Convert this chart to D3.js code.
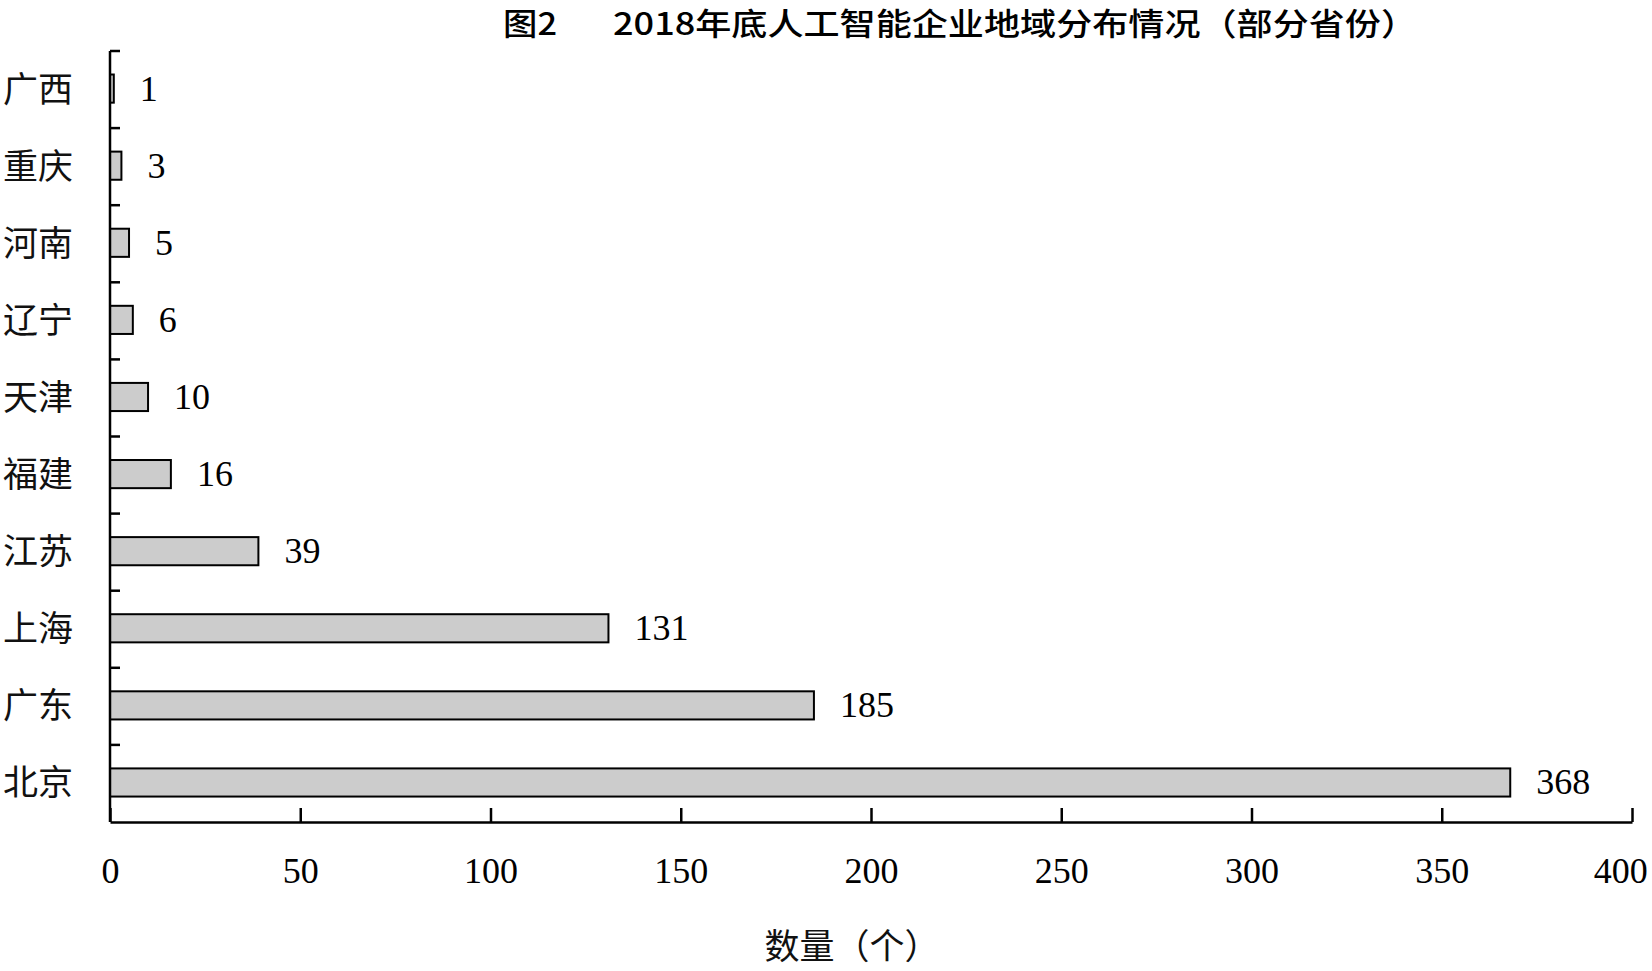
<!DOCTYPE html>
<html><head><meta charset="utf-8">
<script src="https://cdn.jsdelivr.net/npm/d3@7"></script>
<style>html,body{margin:0;padding:0;background:#fff;}</style>
</head><body>
<svg id="c" width="1652" height="971"></svg>
<script>
const categories = ["广西","重庆","河南","辽宁","天津","福建","江苏","上海","广东","北京"];
const values = [1,3,5,6,10,16,39,131,185,368];
const xTicks = [0,50,100,150,200,250,300,350,400];
const titlePrefix = "图2";
const titleText = "2018年底人工智能企业地域分布情况（部分省份）";
const xAxisTitle = "数量（个）";

(function(){
const svg = d3.select("#c");
const pL = 110, pR = 1632, pT = 51, pB = 822;
const x = d3.scaleLinear().domain([0,400]).range([pL,pR]);
const y = d3.scaleBand().domain(categories).range([pT,pB]).paddingInner(0).paddingOuter(0);
const bw = y.bandwidth();
const serif = "'Liberation Serif','Times New Roman',serif";
const cjk = "'Noto Sans CJK SC','Noto Sans CJK JP',sans-serif";

// title
svg.append("text").attr("x",503).attr("y",35).attr("font-family",cjk).attr("font-size",31)
  .attr("font-weight",500).attr("textLength",54).attr("lengthAdjust","spacingAndGlyphs").text(titlePrefix);
svg.append("text").attr("x",613).attr("y",35).attr("font-family",cjk).attr("font-size",31)
  .attr("font-weight",500).attr("textLength",804).attr("lengthAdjust","spacingAndGlyphs").text(titleText);

// bars
const data = categories.map((c,i)=>({c, v:values[i]}));
svg.append("g").selectAll("rect").data(data).join("rect")
  .attr("x",x(0)).attr("y",d=>y(d.c)+bw*0.305).attr("width",d=>x(d.v)-x(0)).attr("height",bw*0.365)
  .attr("fill","#cccccc").attr("stroke","#000").attr("stroke-width",2);

// value labels
svg.append("g").selectAll("text").data(data).join("text")
  .attr("x",d=>x(d.v)+26).attr("y",d=>y(d.c)+bw*0.305+bw*0.365/2+12)
  .attr("font-family",serif).attr("font-size",36).attr("fill","#000").text(d=>d.v);

// category labels
svg.append("g").selectAll("text").data(categories).join("text")
  .attr("x",73).attr("y",d=>y(d)+bw*0.305+bw*0.365/2+13).attr("text-anchor","end")
  .attr("font-family",cjk).attr("font-size",35).attr("fill","#111").text(d=>d);

// y axis line and ticks at band boundaries
svg.append("line").attr("x1",pL).attr("x2",pL).attr("y1",pT).attr("y2",pB)
  .attr("stroke","#000").attr("stroke-width",2.5);
svg.append("g").selectAll("line").data(categories).join("line")
  .attr("x1",pL).attr("x2",pL+10).attr("y1",d=>y(d)).attr("y2",d=>y(d))
  .attr("stroke","#000").attr("stroke-width",2.5);

// x axis
const xa = svg.append("g").attr("transform",`translate(0,${pB})`)
  .call(d3.axisBottom(x).tickValues(xTicks).tickSizeInner(-14).tickSizeOuter(0).tickPadding(35).tickFormat(d3.format("d")));
xa.select(".domain").attr("stroke","#000").attr("stroke-width",2.5);
xa.selectAll(".tick line").attr("stroke","#000").attr("stroke-width",2.5);
xa.selectAll(".tick text").attr("font-family",serif).attr("font-size",36).attr("fill","#000")
  .attr("dx",d=>d===400?"-0.33em":0);

// x axis title
svg.append("text").attr("x",852).attr("y",959).attr("text-anchor","middle")
  .attr("font-family",cjk).attr("font-size",35).attr("fill","#111").text(xAxisTitle);
})();
</script>
</body></html>
